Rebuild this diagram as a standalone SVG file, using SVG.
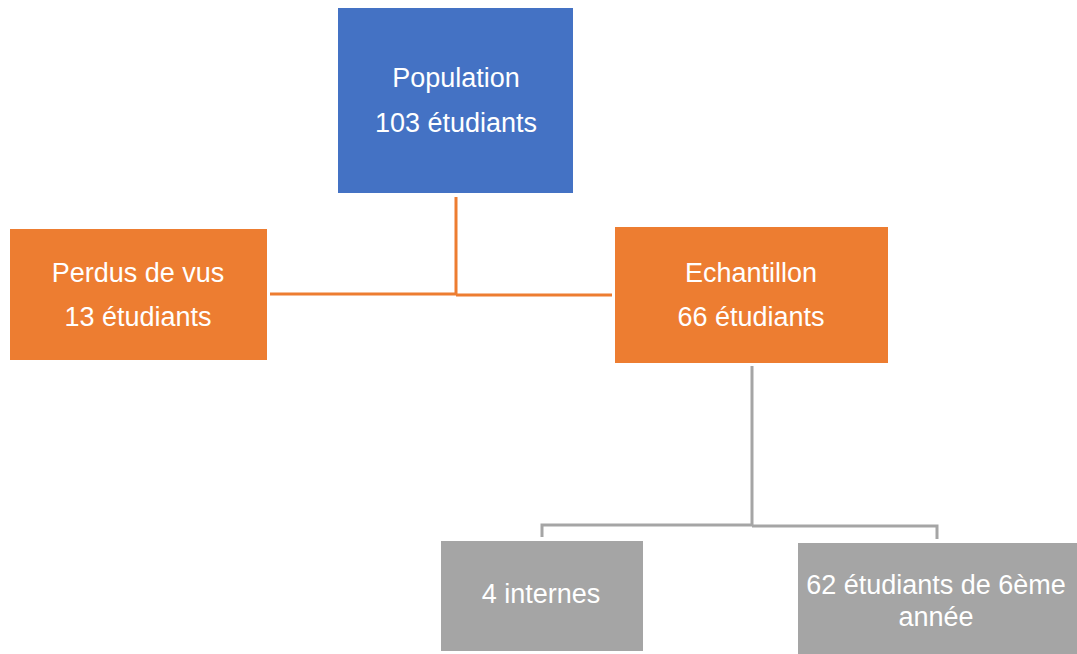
<svg xmlns="http://www.w3.org/2000/svg" width="1077" height="654" viewBox="0 0 1077 654">
<style>
text{font-family:"Liberation Sans",Arial,sans-serif;font-size:27px;fill:#ffffff;text-anchor:middle}
.blue{fill:#4472C4}
.orange{fill:#ED7D31}
.gray{fill:#A5A5A5}
.oc{stroke:#ED7D31;stroke-width:3;fill:none}
.gc{stroke:#A5A5A5;stroke-width:3;fill:none}
</style>
<rect width="1077" height="654" fill="#ffffff"/>
<g id="connectors">
<path class="oc" d="M456,197 V295 M270,294 H456 M456,295 H612"/>
<path class="gc" d="M752,366 V525 M542,537 V525 H752 M752,526 H937 V539"/>
</g>
<g id="population">
<rect class="blue" x="338" y="8" width="235" height="185"/>
<text x="456" y="87">Population</text>
<text x="456" y="132">103 étudiants</text>
</g>
<g id="perdus">
<rect class="orange" x="10" y="229" width="257" height="131"/>
<text x="138" y="282">Perdus de vus</text>
<text x="138" y="326">13 étudiants</text>
</g>
<g id="echantillon">
<rect class="orange" x="615" y="227" width="273" height="136"/>
<text x="751" y="282">Echantillon</text>
<text x="751" y="326">66 étudiants</text>
</g>
<g id="internes">
<rect class="gray" x="441" y="541" width="202" height="110"/>
<text x="541" y="603">4 internes</text>
</g>
<g id="sixieme">
<rect class="gray" x="798" y="543" width="279" height="111"/>
<text x="936" y="594">62 étudiants de 6ème</text>
<text x="936" y="626">année</text>
</g>
</svg>
